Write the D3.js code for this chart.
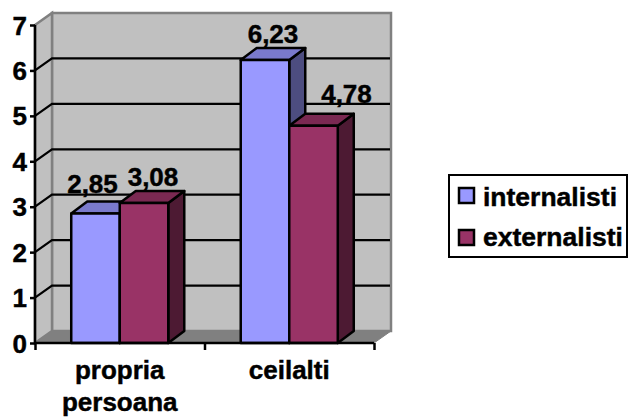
<!DOCTYPE html>
<html>
<head>
<meta charset="utf-8">
<script src="https://cdn.jsdelivr.net/npm/d3@7"></script>
<style>
html, body { margin: 0; padding: 0; background: #fff; overflow: hidden; }
text { font-family: "Liberation Sans", Arial, sans-serif; font-weight: bold; fill: #000; stroke: #000; stroke-width: 0.45px; }
</style>
</head>
<body>
<svg id="chart" width="628" height="418"></svg>
<script>
const categories = ["propria persoana", "ceilalti"];
const seriesNames = ["internalisti", "externalisti"];
const internalisti = [2.85, 6.23];
const externalisti = [3.08, 4.78];
const yTicks = [0, 1, 2, 3, 4, 5, 6, 7];

const frontColors = ["#9999ff", "#993366"];
const topColors = ["#7a7acc", "#7a2952"];
const sideColors = ["#4d4d80", "#4d1a33"];

// Oblique offset of the back plane of the 3D box
const depthX = 17, depthY = -12;
const barDepthX = 16, barDepthY = -12;
const fontSize = 26;

const svg = d3.select("#chart");
const x = d3.scaleBand().domain(categories).range([35, 374]);
const y = d3.scaleLinear().domain([0, 7]).range([343, 25]);
const barScale = d3.scaleBand().domain(seriesNames)
  .range([0, x.bandwidth()]).paddingOuter(0.747).paddingInner(0);

const x0 = x.range()[0], x1 = x.range()[1], y0 = y(0), y7 = y(7);
const poly = pts => pts.map(p => p.join(",")).join(" ");

// Back wall, side wall, floor
svg.append("polygon").attr("points", poly([[x0 + depthX, y7 + depthY], [x1 + depthX, y7 + depthY], [x1 + depthX, y0 + depthY], [x0 + depthX, y0 + depthY]]))
  .attr("fill", "#c0c0c0").attr("stroke", "#808080").attr("stroke-width", 2.5);
svg.append("polygon").attr("points", poly([[x0, y7], [x0 + depthX, y7 + depthY], [x0 + depthX, y0 + depthY], [x0, y0]]))
  .attr("fill", "#c0c0c0").attr("stroke", "#808080").attr("stroke-width", 2.5);
svg.append("polygon").attr("points", poly([[x0, y0], [x0 + depthX, y0 + depthY], [x1 + depthX, y0 + depthY], [x1, y0]]))
  .attr("fill", "#808080").attr("stroke", "#808080").attr("stroke-width", 1);

// Gridlines wrap from the front edge across the side wall and along the back wall
svg.append("g").selectAll("polyline").data(yTicks.filter(t => t > 0 && t < 7)).join("polyline")
  .attr("points", t => poly([[x0, y(t)], [x0 + depthX, y(t) + depthY], [x1 + depthX - 1, y(t) + depthY]]))
  .attr("fill", "none").attr("stroke", "#000").attr("stroke-width", 2.2);

// Bars: front, top and right faces
const seriesValues = [internalisti, externalisti];
const barW = barScale.bandwidth();
categories.forEach((cat, ci) => {
  seriesNames.forEach((name, si) => {
    const v = seriesValues[si][ci];
    const bx = x(cat) + barScale(name), top = y(v);
    const g = svg.append("g").attr("stroke", "#000").attr("stroke-width", 2.5).attr("stroke-linejoin", "round");
    g.append("polygon").attr("points", poly([[bx + barW, top], [bx + barW + barDepthX, top + barDepthY], [bx + barW + barDepthX, y0 + barDepthY], [bx + barW, y0]]))
      .attr("fill", sideColors[si]);
    g.append("polygon").attr("points", poly([[bx, top], [bx + barDepthX, top + barDepthY], [bx + barW + barDepthX, top + barDepthY], [bx + barW, top]]))
      .attr("fill", topColors[si]);
    g.append("rect").attr("x", bx).attr("y", top).attr("width", barW).attr("height", y0 - top)
      .attr("fill", frontColors[si]);
  });
});

// Axes
const yAxis = d3.axisLeft(y).tickValues(yTicks).tickSize(5).tickPadding(3).tickFormat(d3.format("d"));
const yG = svg.append("g").attr("transform", `translate(${x0},0)`).call(yAxis);
const xAxis = d3.axisBottom(d3.scaleLinear().domain([0, categories.length]).range([x0, x1]))
  .tickValues(d3.range(categories.length + 1)).tickSize(7).tickFormat("");
const xG = svg.append("g").attr("transform", `translate(0,${y0})`).call(xAxis);
[yG, xG].forEach(g => {
  g.selectAll("path, line").attr("stroke", "#000").attr("stroke-width", 2.5);
  g.selectAll(".domain").attr("d", g === yG ? `M0,${y7}V${y0}` : `M${x0},0H${x1}`);
});
yG.selectAll("text").attr("font-size", fontSize).attr("dy", "0.35em").attr("fill", "#000");

// Category labels, broken over two lines where needed
categories.forEach(cat => {
  const t = svg.append("text").attr("text-anchor", "middle").attr("font-size", fontSize);
  cat.split(" ").forEach((w, i) => {
    t.append("tspan").attr("x", x(cat) + x.bandwidth() / 2).attr("y", 379 + i * 32).text(w);
  });
});

// Value labels use a comma decimal mark
const fmt = d3.formatLocale({ decimal: ",", thousands: ".", grouping: [3], currency: ["", ""] }).format(".2f");
const labelDx = [[-3, 9], [8, 33]];
const labelDy = [[-21, -17], [-17, -23]];
categories.forEach((cat, ci) => {
  seriesNames.forEach((name, si) => {
    const v = seriesValues[si][ci];
    svg.append("text")
      .attr("x", x(cat) + barScale(name) + barW / 2 + labelDx[ci][si])
      .attr("y", y(v) + labelDy[ci][si])
      .attr("text-anchor", "middle").attr("font-size", fontSize).text(fmt(v));
  });
});

// Legend
const legend = svg.append("g");
legend.append("rect").attr("x", 449).attr("y", 175).attr("width", 178).attr("height", 82)
  .attr("fill", "#fff").attr("stroke", "#000").attr("stroke-width", 2);
seriesNames.forEach((name, i) => {
  const ly = 188 + i * 42;
  legend.append("rect").attr("x", 459).attr("y", ly).attr("width", 15).attr("height", 15)
    .attr("fill", frontColors[i]).attr("stroke", "#000").attr("stroke-width", 2.5);
  legend.append("text").attr("x", 483).attr("y", 206 + i * 40).attr("font-size", fontSize + 0.5).text(name);
});
</script>
</body>
</html>
